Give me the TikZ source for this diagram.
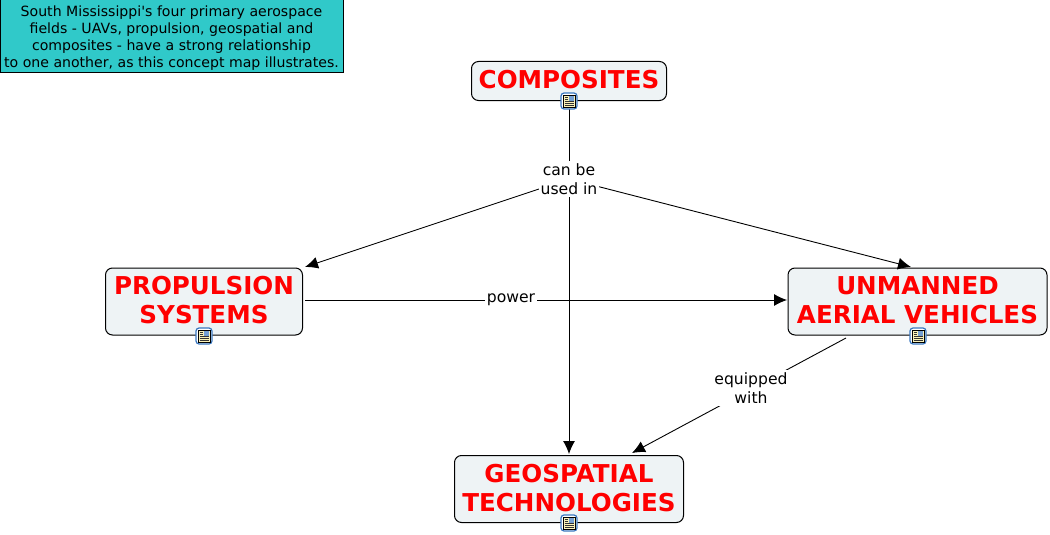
\documentclass[tikz,border=0pt]{standalone}
\usepackage{fontspec}
\setmainfont{DejaVu Sans}
\usepackage{xcolor}
\usetikzlibrary{arrows.meta}
\definecolor{capfill}{HTML}{30C9C9}
\definecolor{boxfill}{HTML}{EEF3F5}
\definecolor{iconblue}{HTML}{3A78C0}
\definecolor{iconpage}{HTML}{FBF3B8}
\newcommand{\resicon}{
  \tikz[x=1pt,y=1pt]{
    \draw [iconblue,fill=white,line width=1.2pt,rounded corners=3pt] (-8,-8) rectangle (8,8);
    \draw [black,fill=iconpage,line width=.8pt] (-6,-6) rectangle (6,6);
    \fill [iconblue!70] (0,0.5) rectangle (5,5);
    \foreach \y in {-4,-2,0}{
      \draw [black!80,line width=.5pt] (-4.5,\y) -- (4.5,\y);
    }
    \foreach \y in {2,4}{
      \draw [black!80,line width=.5pt] (-4.5,\y) -- (-1,\y);
    }
  }
}
\tikzset{
  concept/.style={draw,fill=boxfill,rounded corners=7pt,line width=1pt,inner sep=0pt,
    align=center,text=red,text depth=3pt,font=\fontsize{24.6}{29}\selectfont\bfseries},
  phrase/.style={fill=white,inner sep=2pt,align=center,font=\fontsize{15.6}{19.5}\selectfont},
  link/.style={line width=.9pt},
  arrow/.style={line width=.9pt,-{Latex[length=13pt,width=12pt]}},
  resource/.style={inner sep=0pt},
}
\begin{document}
\begin{tikzpicture}[x=1pt,y=-1pt]
  \useasboundingbox (0,0) rectangle (1050,535);
  \node (caption) [draw,fill=capfill,line width=1pt,minimum width=343pt,minimum height=73pt,inner sep=0pt,align=center,
    text depth=0pt,font=\fontsize{14.1}{17}\selectfont] at (171.5,36.5)
    {South Mississippi\textquotesingle s four primary aerospace\\fields - UAVs, propulsion, geospatial and\\composites - have a strong relationship\\to one another, as this concept map illustrates.};
  \node (C) [concept,minimum width=195pt,minimum height=39pt] at (569,81) {COMPOSITES};
  \node (P) [concept,minimum width=197pt,minimum height=67pt] at (204,301.5) {PROPULSION\\SYSTEMS};
  \node (U) [concept,minimum width=259pt,minimum height=67pt] at (917.5,301.5) {UNMANNED\\AERIAL VEHICLES};
  \node (G) [concept,minimum width=229pt,minimum height=67pt] at (569,489) {GEOSPATIAL\\TECHNOLOGIES};
  \coordinate (Pto) at (305,267);
  \coordinate (Uto) at (911,267);
  \coordinate (Gto) at (569,454);
  \coordinate (Pout) at (305,300);
  \coordinate (Uin) at (787,300);
  \coordinate (Uout) at (846,338);
  \coordinate (Gin) at (632,453);
  \coordinate (Cmid) at (569,179);
  % link phrases sit over the lines
  \draw [link] (C) -- (Cmid);
  \draw [arrow] (Cmid) -- (Gto);
  \draw [arrow] (Cmid) -- (Pto);
  \draw [arrow] (Cmid) -- (Uto);
  \draw [arrow] (Pout) -- (Uin);
  \draw [arrow] (Uout) -- (Gin);
  \node (canbe) [phrase] at (569,179) {can be\\used in};
  \node (power) [phrase] at (511,300) {power};
  \node (equipped) [phrase] at (751,388) {equipped\\with};
  \node (iconC) [resource] at (569,101) {\resicon};
  \node (iconP) [resource] at (204,336) {\resicon};
  \node (iconU) [resource] at (918,336) {\resicon};
  \node (iconG) [resource] at (569,523) {\resicon};
\end{tikzpicture}
\end{document}
